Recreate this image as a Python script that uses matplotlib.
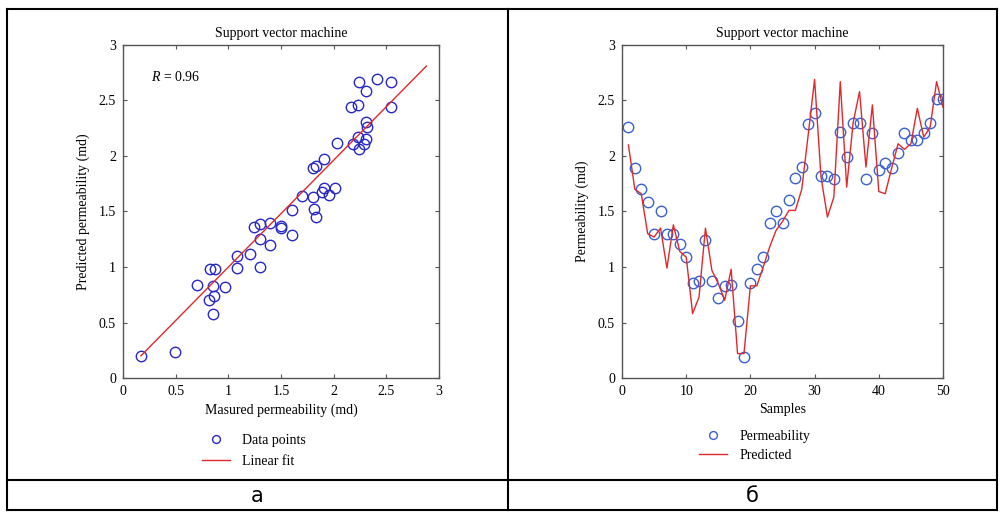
import matplotlib
matplotlib.use('Agg')
import matplotlib.pyplot as plt
from matplotlib.lines import Line2D

plt.rcParams['font.family'] = ['Liberation Serif', 'DejaVu Serif']
plt.rcParams['mathtext.fontset'] = 'custom'
plt.rcParams['mathtext.it'] = 'Liberation Serif:italic'
plt.rcParams['mathtext.rm'] = 'Liberation Serif'

# левый график: измеренная / предсказанная проницаемость
measured = [0.17, 0.49, 0.70, 0.82, 0.85, 0.86, 0.85, 0.83, 0.87, 0.97,
            1.08, 1.08, 1.21, 1.24, 1.30, 1.30, 1.30, 1.40, 1.40, 1.50,
            1.50, 1.60, 1.60, 1.81, 1.83, 1.70, 1.80, 1.80, 1.83, 1.91,
            1.89, 1.91, 1.96, 2.01, 2.03, 2.16, 2.18, 2.23, 2.24, 2.23,
            2.24, 2.31, 2.29, 2.31, 2.31, 2.32, 2.41, 2.54, 2.54]
predicted = [0.20, 0.23, 0.84, 0.70, 0.58, 0.74, 0.83, 0.98, 0.98, 0.82,
             1.10, 0.99, 1.12, 1.36, 1.39, 1.25, 1.00, 1.40, 1.20, 1.37,
             1.35, 1.51, 1.29, 1.52, 1.45, 1.64, 1.63, 1.89, 1.91, 1.97,
             1.68, 1.71, 1.65, 1.71, 2.12, 2.44, 2.11, 2.46, 2.67, 2.17,
             2.06, 2.59, 2.11, 2.15, 2.31, 2.26, 2.69, 2.67, 2.44]
fit_x = [0.17, 2.88]
fit_y = [0.20, 2.81]

# правый график: по номерам образцов
samples = list(range(1, 51))
perm = [2.26, 1.89, 1.70, 1.59, 1.30, 1.50, 1.30, 1.30, 1.21, 1.09,
        0.86, 0.87, 1.24, 0.87, 0.72, 0.83, 0.84, 0.51, 0.19, 0.86,
        0.98, 1.09, 1.40, 1.50, 1.40, 1.60, 1.80, 1.90, 2.29, 2.39,
        1.82, 1.82, 1.79, 2.22, 1.99, 2.30, 2.30, 1.79, 2.21, 1.87,
        1.94, 1.89, 2.03, 2.21, 2.14, 2.14, 2.21, 2.30, 2.51, 2.51]
pred = [2.10, 1.70, 1.66, 1.30, 1.27, 1.35, 0.99, 1.38, 1.14, 1.09,
        0.58, 0.73, 1.35, 0.97, 0.85, 0.70, 0.98, 0.22, 0.22, 0.83,
        0.83, 1.00, 1.18, 1.33, 1.41, 1.51, 1.51, 1.70, 2.19, 2.69,
        1.81, 1.45, 1.63, 2.67, 1.72, 2.30, 2.58, 1.90, 2.46, 1.68,
        1.66, 1.89, 2.11, 2.06, 2.11, 2.43, 2.17, 2.26, 2.67, 2.44]

fig = plt.figure(figsize=(10.04, 5.17), dpi=100)

ax1 = fig.add_axes([123/1004, 1 - 378/517, 316/1004, 333/517])
ax2 = fig.add_axes([622/1004, 1 - 378/517, 321/1004, 333/517])

blue1 = '#2828c8'
blue2 = '#3a62d0'
red = '#e0282c'

ax1.plot(measured, predicted, 'o', mfc='none', mec=blue1, ms=7.5, mew=1, label='Data points')
ax1.plot(fit_x, fit_y, color=red, lw=1, label='Linear fit')
ax1.text(0.27, 2.71, '$R$ = 0.96', fontsize=10, va='center')
ax1.set_xlim(0, 3)
ax1.set_ylim(0, 3)
ax1.set_xticks([0, 0.5, 1, 1.5, 2, 2.5, 3])
ax1.set_xticklabels(['0', '0.5', '1', '1.5', '2', '2.5', '3'])
ax1.set_yticks([0, 0.5, 1, 1.5, 2, 2.5, 3])
ax1.set_yticklabels(['0', '0.5', '1', '1.5', '2', '2.5', '3'])
ax1.set_title('Support vector machine', fontsize=10, pad=6)
ax1.set_xlabel('Masured permeability (md)', fontsize=10, labelpad=4)
ax1.set_ylabel('Predicted permeability (md)', fontsize=10, labelpad=6)
ax1.legend(loc='upper left', bbox_to_anchor=(195/1004, 1 - 427/517), bbox_transform=fig.transFigure,
           frameon=False, fontsize=10, borderpad=0, handlelength=2, handletextpad=0.9,
           labelspacing=0.55, markerscale=0.75)

ax2.plot(samples, perm, 'o', mfc='none', mec=blue2, ms=7.5, mew=1, label='Permeability')
ax2.plot(samples, pred, color=red, lw=1, label='Predicted')
ax2.set_xlim(0, 50)
ax2.set_ylim(0, 3)
ax2.set_xticks([0, 10, 20, 30, 40, 50])
ax2.set_yticks([0, 0.5, 1, 1.5, 2, 2.5, 3])
ax2.set_yticklabels(['0', '0.5', '1', '1.5', '2', '2.5', '3'])
ax2.set_title('Support vector machine', fontsize=10, pad=6)
ax2.set_xlabel('Samples', fontsize=10, labelpad=4)
ax2.set_ylabel('Permeability (md)', fontsize=10, labelpad=6)
ax2.legend(loc='upper left', bbox_to_anchor=(692/1004, 1 - 423/517), bbox_transform=fig.transFigure,
           frameon=False, fontsize=10, borderpad=0, handlelength=2, handletextpad=0.9,
           labelspacing=0.45, markerscale=0.75)

for ax in (ax1, ax2):
    for s in ax.spines.values():
        s.set_color('#555555')
        s.set_linewidth(1)
    ax.tick_params(direction='in', top=True, right=True, length=3, width=0.8,
                   color='#555555', labelsize=10, pad=5)

# таблица вокруг графиков
L, R, T, B, M, H = 7, 997, 9, 510, 508, 480
def hline(y, x0, x1):
    fig.add_artist(Line2D([x0/1004, x1/1004], [1 - y/517, 1 - y/517], color='black', lw=1.5))
def vline(x, y0, y1):
    fig.add_artist(Line2D([x/1004, x/1004], [1 - y0/517, 1 - y1/517], color='black', lw=1.5))
hline(T, L, R)
hline(H, L, R)
hline(B, L, R)
vline(L, T, B)
vline(R, T, B)
vline(M, T, B)

fig.text((L + M) / 2 / 1004, 1 - 496/517, 'а', fontsize=15, ha='center', va='center',
         family=['Liberation Sans Narrow', 'DejaVu Sans'])
fig.text((M + R) / 2 / 1004, 1 - 496/517, 'б', fontsize=15, ha='center', va='center',
         family=['Liberation Sans Narrow', 'DejaVu Sans'])

fig.savefig('out.png', dpi=100)
